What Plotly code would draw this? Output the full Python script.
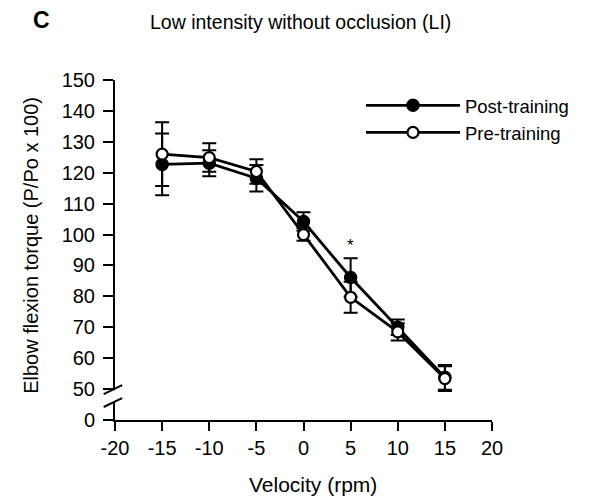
import plotly.graph_objects as go

# ---- data ----
velocity = [-15, -10, -5, 0, 5, 10, 15]
post_training = [122.7, 123.1, 118.2, 104.2, 86.1, 70.0, 53.8]
post_sd = [10.0, 4.2, 4.3, 3.0, 6.2, 2.5, 4.0]
pre_training = [126.0, 124.9, 120.4, 100.0, 79.7, 68.5, 53.4]
pre_sd = [10.3, 4.6, 4.0, 2.0, 5.0, 2.8, 4.0]

x_ticks = [-20, -15, -10, -5, 0, 5, 10, 15, 20]
# axis is broken between 0 and 50: the "0" label sits one step below 50
y_tick_vals = [40, 50, 60, 70, 80, 90, 100, 110, 120, 130, 140, 150]
y_tick_text = ["0", "50", "60", "70", "80", "90", "100", "110", "120", "130", "140", "150"]
Y_MIN, Y_MAX = 40, 150

FONT = "Liberation Sans, Arial, sans-serif"

fig = go.Figure()

fig.add_trace(go.Scatter(
    x=velocity, y=post_training, name="Post-training", mode="lines+markers",
    line=dict(color="black", width=2.8),
    marker=dict(symbol="circle", size=12, color="black", line=dict(color="black", width=1.5)),
    error_y=dict(type="data", array=post_sd, visible=True, color="black", thickness=2, width=7),
))
fig.add_trace(go.Scatter(
    x=velocity, y=pre_training, name="Pre-training", mode="lines+markers",
    line=dict(color="black", width=2.8),
    marker=dict(symbol="circle", size=11, color="white", line=dict(color="black", width=2.2)),
    error_y=dict(type="data", array=pre_sd, visible=True, color="black", thickness=2, width=7),
))

def py(v):
    return (v - Y_MIN) / (Y_MAX - Y_MIN)

shapes = []
# mask the axis line between the break marks
shapes.append(dict(type="rect", xref="paper", yref="paper", x0=-0.012, x1=0.012,
                   y0=py(45.9), y1=py(49.6), fillcolor="white", line=dict(width=0), layer="above"))
# break slashes
for lo, hi in [(48.4, 51.3), (44.2, 47.1)]:
    shapes.append(dict(type="line", xref="paper", yref="paper",
                       x0=-0.030, y0=py(lo), x1=0.019, y1=py(hi),
                       line=dict(color="black", width=2), layer="above"))

annotations = [
    dict(text="<b>C</b>", xref="paper", yref="paper", x=-0.194, y=1.176, showarrow=False,
         font=dict(size=23, family=FONT, color="black"), xanchor="center", yanchor="middle"),
    dict(text="Low intensity without occlusion (LI)", xref="paper", yref="paper",
         x=0.491, y=1.171, showarrow=False,
         font=dict(size=19.5, family=FONT, color="black"), xanchor="center", yanchor="middle"),
    dict(text="Elbow flexion torque (P/Po x 100)", xref="paper", yref="paper",
         x=-0.223, y=0.515, textangle=-90, showarrow=False,
         font=dict(size=20, family=FONT, color="black"), xanchor="center", yanchor="middle"),
    dict(text="Velocity (rpm)", xref="paper", yref="paper", x=0.525, y=-0.191, showarrow=False,
         font=dict(size=21, family=FONT, color="black"), xanchor="center", yanchor="middle"),
    dict(text="*", x=5, y=96.3, xref="x", yref="y", showarrow=False,
         font=dict(size=17, family=FONT, color="black"), xanchor="center", yanchor="middle"),
]

# page has an 8px body margin, so the figure is 8px smaller and offset
fig.update_layout(
    width=587, height=490,
    margin=dict(l=107, r=103, t=72, b=78),
    paper_bgcolor="white", plot_bgcolor="white",
    font=dict(family=FONT, color="black", size=19),
    showlegend=True,
    legend=dict(x=0.6525, y=0.980, xanchor="left", yanchor="top",
                font=dict(size=18.5, family=FONT, color="black"),
                itemwidth=94, bgcolor="rgba(0,0,0,0)", tracegroupgap=0),
    shapes=shapes,
    annotations=annotations,
)

fig.update_xaxes(
    range=[-20, 20], tickvals=x_ticks, ticktext=[str(v) for v in x_ticks],
    showline=True, linecolor="black", linewidth=2, ticks="outside", ticklen=9,
    tickwidth=2, tickcolor="black", showgrid=False, zeroline=False,
    tickfont=dict(size=20, family=FONT, color="black"),
)
fig.update_yaxes(
    range=[Y_MIN, Y_MAX], tickvals=y_tick_vals, ticktext=y_tick_text,
    showline=True, linecolor="black", linewidth=2, ticks="outside", ticklen=10,
    tickwidth=2, tickcolor="black", showgrid=False, zeroline=False,
    tickfont=dict(size=20, family=FONT, color="black"), ticklabelstandoff=4,
)

fig.write_html("out.html")
